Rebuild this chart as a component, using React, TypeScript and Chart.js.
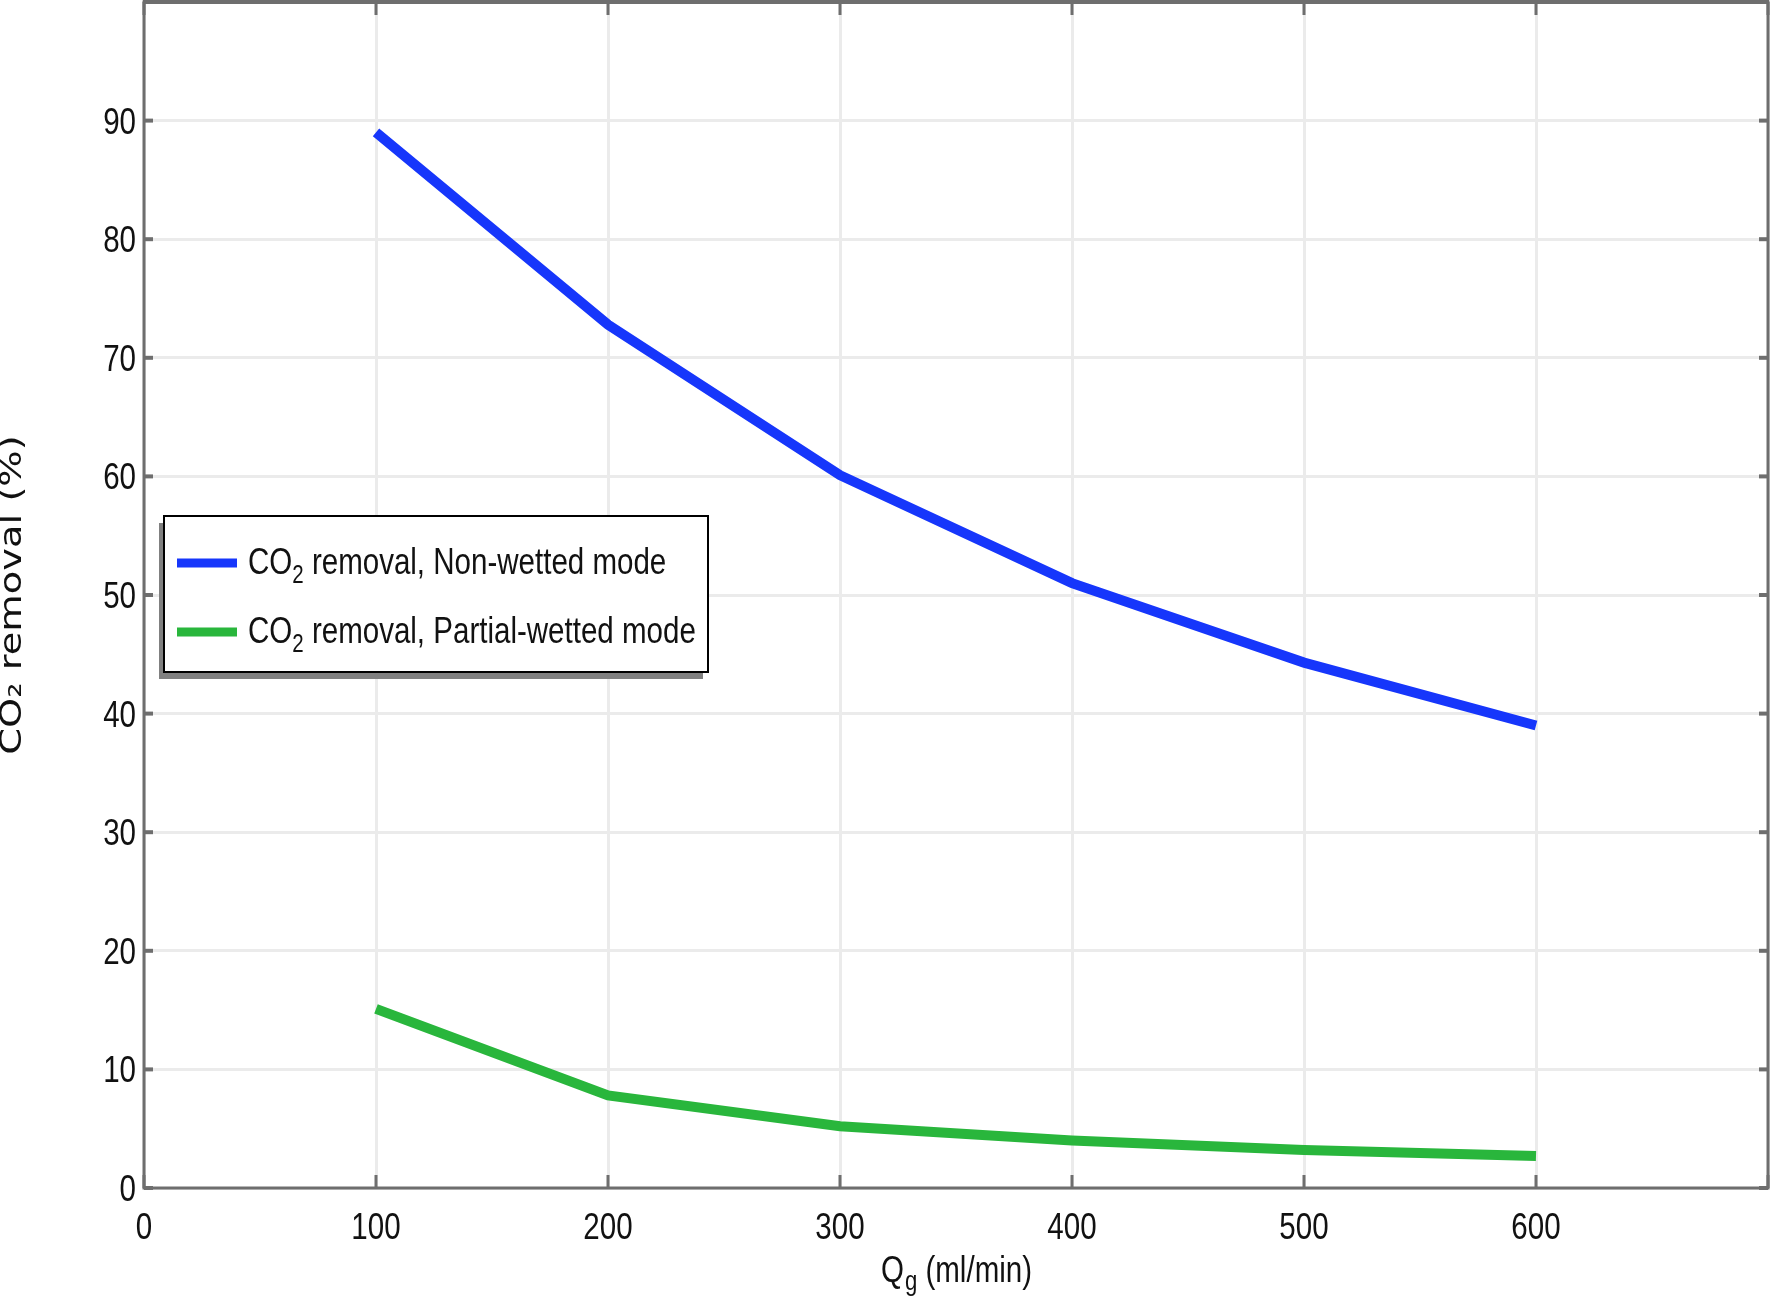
import React, { useEffect, useRef } from "react";
import { Chart, registerables } from "chart.js";

Chart.register(...registerables);

// ---- data ----
const flowRates = [100, 200, 300, 400, 500, 600];
const nonWettedRemoval = [89.0, 72.8, 60.1, 51.0, 44.3, 39.0];
const partialWettedRemoval = [15.1, 7.8, 5.2, 4.0, 3.2, 2.7];
const xTickValues = [0, 100, 200, 300, 400, 500, 600, 700];
const xTickLabels = ["0", "100", "200", "300", "400", "500", "600", ""];
const yTickValues = [0, 10, 20, 30, 40, 50, 60, 70, 80, 90, 100];
const yTickLabels = ["0", "10", "20", "30", "40", "50", "60", "70", "80", "90", ""];
const xMin = 0;
const xMax = 700;
const yMin = 0;
const yMax = 100;
const seriesLabels = ["CO₂ removal, Non-wetted mode", "CO₂ removal, Partial-wetted mode"];
const seriesColors = ["#1636fb", "#29b63c"];
const yTitle = "CO₂ removal (%)";
const xTitleMain = "Q";
const xTitleSub = "g";
const xTitleRest = " (ml/min)";

const NARROW = "'Liberation Sans', Arial, sans-serif";
const SQ = 0.82; // horizontal squeeze of the narrow-looking text
const AXIS_COLOR = "#6e6e6e";
const TEXT_COLOR = "#111";

function squeezedText(ctx: CanvasRenderingContext2D, text: string, x: number, y: number, size: number, align: CanvasTextAlign, baseline: CanvasTextBaseline) {
  ctx.save();
  ctx.translate(x, y);
  ctx.scale(SQ, 1);
  ctx.font = `${size}px ${NARROW}`;
  ctx.textAlign = align;
  ctx.textBaseline = baseline;
  ctx.fillText(text, 0, 0);
  ctx.restore();
}

function squeezedWidth(ctx: CanvasRenderingContext2D, text: string, size: number) {
  ctx.save();
  ctx.font = `${size}px ${NARROW}`;
  const w = ctx.measureText(text).width * SQ;
  ctx.restore();
  return w;
}

const decorPlugin = {
  id: "decor",
  afterDatasetsDraw(chart: any) {
    const { ctx, chartArea: a, scales } = chart;
    const xs = scales.x;
    const ys = scales.y;
    ctx.save();
    ctx.strokeStyle = AXIS_COLOR;
    const line = (x1: number, y1: number, x2: number, y2: number) => {
      ctx.beginPath();
      ctx.moveTo(x1, y1);
      ctx.lineTo(x2, y2);
      ctx.stroke();
    };
    // inward tick marks
    ctx.lineWidth = 3;
    for (const v of xTickValues) {
      const px = xs.getPixelForValue(v);
      line(px, a.bottom, px, a.bottom - 13);
      line(px, a.top, px, a.top + 13);
    }
    ctx.lineWidth = 4;
    for (const v of yTickValues) {
      const py = ys.getPixelForValue(v);
      line(a.left, py, a.left + 9, py);
      line(a.right, py, a.right - 9, py);
    }
    // frame
    ctx.lineWidth = 3;
    ctx.strokeRect(a.left, a.top, a.right - a.left, a.bottom - a.top);
    ctx.lineWidth = 4;
    line(a.left - 1, a.top, a.right + 1, a.top);
    ctx.restore();
  },
  afterDraw(chart: any) {
    const { ctx, chartArea: a, scales } = chart;
    const xs = scales.x;
    const ys = scales.y;
    ctx.save();
    ctx.fillStyle = TEXT_COLOR;

    // tick labels
    xTickValues.forEach((v, i) => {
      if (!xTickLabels[i]) return;
      squeezedText(ctx, xTickLabels[i], xs.getPixelForValue(v), a.bottom + 51, 36, "center", "alphabetic");
    });
    yTickValues.forEach((v, i) => {
      if (!yTickLabels[i]) return;
      squeezedText(ctx, yTickLabels[i], a.left - 8, ys.getPixelForValue(v) + 13, 36, "right", "alphabetic");
    });

    // y axis title (rotated, stretched along its length)
    ctx.save();
    ctx.translate(13, (a.top + a.bottom) / 2);
    ctx.rotate(-Math.PI / 2);
    ctx.scale(1.28, 1);
    ctx.font = "30px 'DejaVu Sans', sans-serif";
    ctx.textAlign = "center";
    ctx.textBaseline = "middle";
    ctx.fillText(yTitle, 0, 0);
    ctx.restore();

    // x axis title with subscript
    const cx = (a.left + a.right) / 2;
    const base = 1282;
    const wQ = squeezedWidth(ctx, xTitleMain, 36);
    const wS = squeezedWidth(ctx, xTitleSub, 27);
    const wR = squeezedWidth(ctx, xTitleRest, 36);
    let sx = cx - (wQ + wS + wR) / 2;
    squeezedText(ctx, xTitleMain, sx, base, 36, "left", "alphabetic");
    sx += wQ + 1;
    squeezedText(ctx, xTitleSub, sx, base + 8, 27, "left", "alphabetic");
    sx += wS;
    squeezedText(ctx, xTitleRest, sx, base, 36, "left", "alphabetic");

    // legend
    const bx = 164, by = 516, bw = 544, bh = 156;
    ctx.fillStyle = "#808080";
    ctx.fillRect(bx - 5, by + 7, bw, bh);
    ctx.fillStyle = "#ffffff";
    ctx.fillRect(bx, by, bw, bh);
    ctx.strokeStyle = "#000";
    ctx.lineWidth = 2;
    ctx.strokeRect(bx, by, bw, bh);
    const rows = [563, 632];
    chart.data.datasets.forEach((ds: any, i: number) => {
      const cy = rows[i];
      ctx.strokeStyle = ds.borderColor;
      ctx.lineWidth = 9;
      ctx.beginPath();
      ctx.moveTo(177, cy);
      ctx.lineTo(237, cy);
      ctx.stroke();
      const parts = String(ds.label).split("₂");
      const tb = cy + 11;
      let tx = 248;
      ctx.fillStyle = TEXT_COLOR;
      squeezedText(ctx, parts[0], tx, tb, 36, "left", "alphabetic");
      tx += squeezedWidth(ctx, parts[0], 36);
      if (parts.length > 1) {
        squeezedText(ctx, "2", tx, tb + 9, 25, "left", "alphabetic");
        tx += squeezedWidth(ctx, "2", 25);
        squeezedText(ctx, parts[1], tx, tb, 36, "left", "alphabetic");
      }
    });
    ctx.restore();
  },
};

export default function App() {
  const canvasRef = useRef<HTMLCanvasElement | null>(null);

  useEffect(() => {
    document.body.style.margin = "0";
    const canvas = canvasRef.current;
    if (!canvas) return;
    const chart = new Chart(canvas, {
      type: "line",
      data: {
        datasets: [
          {
            label: seriesLabels[0],
            data: flowRates.map((x, i) => ({ x, y: nonWettedRemoval[i] })),
            borderColor: seriesColors[0],
            backgroundColor: seriesColors[0],
            borderWidth: 10,
            pointRadius: 0,
            tension: 0,
            fill: false,
          },
          {
            label: seriesLabels[1],
            data: flowRates.map((x, i) => ({ x, y: partialWettedRemoval[i] })),
            borderColor: seriesColors[1],
            backgroundColor: seriesColors[1],
            borderWidth: 10,
            pointRadius: 0,
            tension: 0,
            fill: false,
          },
        ],
      },
      options: {
        animation: false,
        responsive: false,
        devicePixelRatio: 1,
        layout: { padding: { left: 0, right: 2, top: 2, bottom: 0 } },
        plugins: {
          legend: { display: false },
          tooltip: { enabled: false },
        },
        scales: {
          x: {
            type: "linear",
            min: xMin,
            max: xMax,
            afterFit: (s: any) => {
              s.height = 111;
              s.paddingLeft = 0;
              s.paddingRight = 0;
            },
            afterBuildTicks: (s: any) => {
              s.ticks = xTickValues.map((v) => ({ value: v }));
            },
            ticks: { display: false },
            grid: { color: "#ebebeb", lineWidth: 3, drawTicks: false },
            border: { display: false },
          },
          y: {
            type: "linear",
            min: yMin,
            max: yMax,
            afterFit: (s: any) => {
              s.width = 144;
              s.paddingTop = 0;
              s.paddingBottom = 0;
            },
            afterBuildTicks: (s: any) => {
              s.ticks = yTickValues.map((v) => ({ value: v }));
            },
            ticks: { display: false },
            grid: { color: "#ebebeb", lineWidth: 3, drawTicks: false },
            border: { display: false },
          },
        },
      },
      plugins: [decorPlugin],
    });
    return () => chart.destroy();
  }, []);

  return (
    <div style={{ position: "absolute", left: 0, top: 0, width: 1770, height: 1299, background: "#fff" }}>
      <canvas ref={canvasRef} width={1770} height={1299} style={{ width: 1770, height: 1299 }} />
    </div>
  );
}
